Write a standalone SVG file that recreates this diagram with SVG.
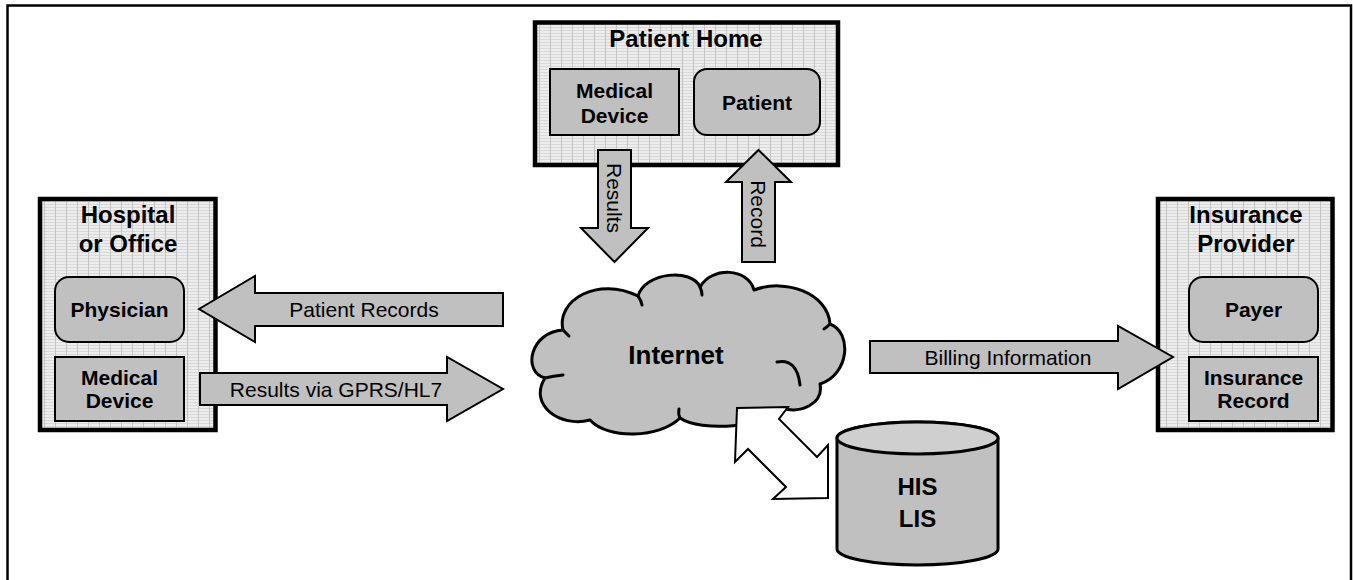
<svg xmlns="http://www.w3.org/2000/svg" width="1353" height="580" viewBox="0 0 1353 580">
  <style>
    .t { font-family: "Liberation Sans", Arial, sans-serif; fill: #000; text-anchor: middle; }
    .title { font-size: 24px; font-weight: bold; }
    .lbl { font-size: 21px; font-weight: bold; }
    .arr { font-size: 21px; }
    .frame { fill: url(#grid); stroke: #000; stroke-width: 4.5; }
    .item { fill: #c0c0c0; stroke: #000; stroke-width: 2; }
    .flow { fill: #c0c0c0; stroke: #000; stroke-width: 2; stroke-linejoin: miter; }
  </style>
  <defs>
    <pattern id="grid" width="11" height="3" patternUnits="userSpaceOnUse">
      <rect width="11" height="3" fill="#ededed"/>
      <rect width="11" height="1" fill="#d8d8d8"/>
      <rect width="1" height="3" fill="#c4c4c4"/>
    </pattern>
  </defs>

  <rect width="1353" height="580" fill="#fff"/>
  <!-- page border -->
  <rect x="7.5" y="5.5" width="1343.5" height="600" fill="none" stroke="#000" stroke-width="2.5"/>

  <g id="patient-home">
    <rect class="frame" x="535" y="22.5" width="303" height="142.5"/>
    <text class="t title" x="686" y="47">Patient Home</text>
    <rect class="item" x="550" y="69" width="129" height="66"/>
    <text class="t lbl" x="614.5" y="98">Medical</text>
    <text class="t lbl" x="614.5" y="123">Device</text>
    <rect class="item" x="694" y="69" width="126" height="66" rx="13"/>
    <text class="t lbl" x="757" y="110">Patient</text>
  </g>

  <g id="hospital">
    <rect class="frame" x="40" y="199" width="175.5" height="231"/>
    <text class="t title" x="128" y="223">Hospital</text>
    <text class="t title" x="128" y="252">or Office</text>
    <rect class="item" x="55" y="277" width="129" height="65" rx="14"/>
    <text class="t lbl" x="119.5" y="317">Physician</text>
    <rect class="item" x="55" y="357" width="129" height="64"/>
    <text class="t lbl" x="119.5" y="385">Medical</text>
    <text class="t lbl" x="119.5" y="408">Device</text>
  </g>

  <g id="insurance">
    <rect class="frame" x="1158" y="199" width="174.5" height="231"/>
    <text class="t title" x="1246" y="223">Insurance</text>
    <text class="t title" x="1246" y="252">Provider</text>
    <rect class="item" x="1189" y="277" width="129" height="65" rx="14"/>
    <text class="t lbl" x="1253.5" y="317">Payer</text>
    <rect class="item" x="1189" y="357" width="129" height="64"/>
    <text class="t lbl" x="1253.5" y="385">Insurance</text>
    <text class="t lbl" x="1253.5" y="408">Record</text>
  </g>

  <g id="internet">
    <path d="M563,330 C556,300 598,276 638,296 C645,272 692,268 700,287 C712,266 748,268 754,290 C785,278 828,293 830,324 C852,332 850,374 820,384 C824,404 800,414 782,408 C768,428 700,432 680,418 C660,438 608,440 590,420 C560,428 528,405 545,378 C522,372 530,332 563,330 Z" fill="#c0c0c0" stroke="#000" stroke-width="3" stroke-linejoin="round"/>
    <g fill="none" stroke="#000" stroke-width="3" stroke-linecap="round">
      <path d="M638,296 q3,4 4,9"/>
      <path d="M700,287 q2,4 2,8"/>
      <path d="M830,324 q-3,3 -6,5"/>
      <path d="M777,362 Q797,358 800,385"/>
      <path d="M563,330 q3,3 6,6"/>
      <path d="M545,378 q8,-2 18,-3"/>
      <path d="M680,418 q-2,-4 -1,-9"/>
    </g>
    <text class="t" x="676" y="364" font-size="26" font-weight="bold">Internet</text>
  </g>

  <g id="his-lis">
    <path d="M837,438 V549 A80.5,16 0 0 0 998,549 V438 A80.5,16 0 0 0 837,438 Z" fill="#c0c0c0" stroke="#000" stroke-width="3"/>
    <ellipse cx="917.5" cy="438" rx="80.5" ry="16" fill="#cfcfcf" stroke="#000" stroke-width="3"/>
    <text class="t title" x="917.5" y="495">HIS</text>
    <text class="t title" x="917.5" y="527">LIS</text>
  </g>

  <g id="connectors">
    <polygon class="flow" points="199,309 255,276 255,293 503,293 503,326 255,326 255,342"/>
    <text class="t arr" x="364" y="317">Patient Records</text>

    <polygon class="flow" points="200,373 447,373 447,357 503,389 447,421 447,405 200,405"/>
    <text class="t arr" x="336" y="397">Results via GPRS/HL7</text>

    <polygon class="flow" points="870,341 1118,341 1118,326 1173,357 1118,389 1118,373 870,373"/>
    <text class="t arr" x="1008" y="365">Billing Information</text>

    <polygon class="flow" points="598,150 631,150 631,228 648,228 614.5,262 581,228 598,228"/>
    <text class="t arr" transform="translate(607,198) rotate(90)">Results</text>

    <polygon class="flow" points="758.5,150 791,182 775,182 775,262 742,262 742,182 726,182"/>
    <text class="t arr" transform="translate(751,214) rotate(90)">Record</text>

    <polygon points="737,408 788,407 779,419 817,457 828,445 828,498 773,499 786,487 748,449 735,462" fill="#fff" stroke="#000" stroke-width="2" stroke-linejoin="miter"/>
  </g>
</svg>
